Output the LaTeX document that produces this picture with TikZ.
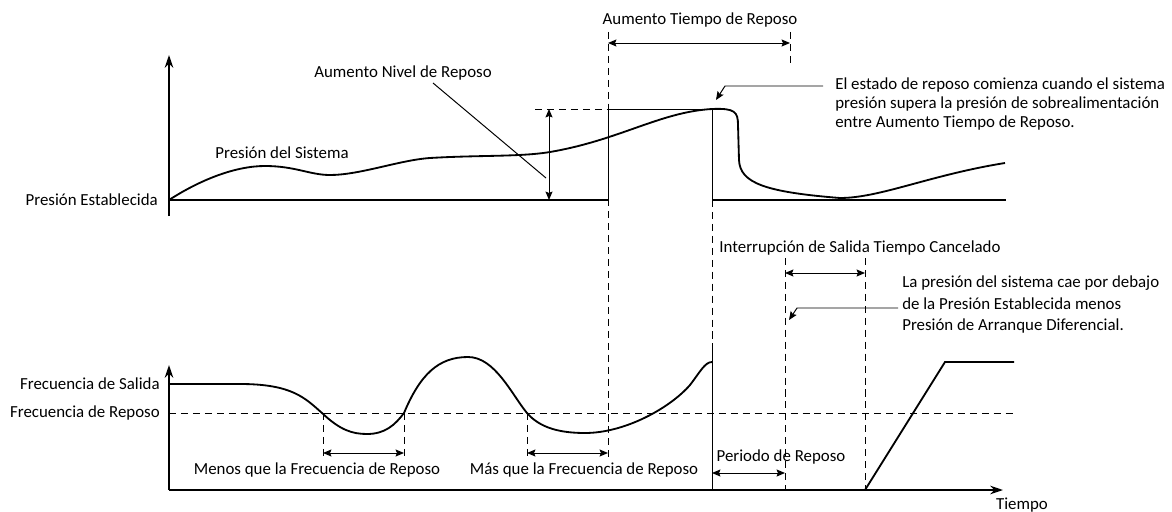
\documentclass[tikz,border=0pt]{standalone}
\usepackage{fontspec}
\setmainfont{Carlito}
\usetikzlibrary{arrows.meta,calc}
\newcommand{\axisX}{169}
\newcommand{\setLevel}{200}
\newcommand{\restLevel}{413}
\newcommand{\timeAxis}{490}
\newcommand{\boostStart}{608}
\newcommand{\boostEnd}{712}
\newcommand{\boostTop}{109}
\newcommand{\dimTip}{Stealth[length=6pt,width=5pt,inset=1pt]}

\begin{document}
\begin{tikzpicture}[x=0.025cm,y=-0.025cm,font=\fontsize{12}{13.5}\selectfont,
		axisline/.style={line width=1.3pt},
		curveline/.style={line width=1.3pt},
		thinline/.style={line width=0.7pt},
		guide/.style={line width=0.6pt,dash pattern=on 5pt off 3.5pt},
		dimarrow/.style={thinline,{\dimTip}-{\dimTip}},
		leadarrow/.style={thinline,-{\dimTip}},
		lbl/.style={inner sep=0pt}]
	\useasboundingbox (0,0) rectangle (1172,512);
	
	% dashed guides
	\foreach \x/\ya/\yb in {608/32/460, 712/200/345, 790/32/66, 785/258/490, 865/258/490, 323/413/460, 404/413/460, 527/413/460}
	{
		\draw[guide] (\x,\ya) -- (\x,\yb);
	}
	\draw[guide] (535,\boostTop) -- (\boostStart,\boostTop);
	\draw[guide] (\axisX,\restLevel) -- (1015,\restLevel);
	
	% upper panel: pressure
	\draw[axisline,-{Stealth[length=9pt,width=6pt]}] (\axisX,216) -- (\axisX,55);
	\draw[axisline] (\axisX,\setLevel) -- (\boostStart,\setLevel);
	\draw[axisline] (\boostEnd,\setLevel) -- (1006,\setLevel);
	\draw[thinline] (\boostStart,\setLevel) |- (\boostEnd,\boostTop) -- (\boostEnd,\setLevel);
	\draw[curveline] (169,200) .. controls (200,180) and (235,166) .. (265,166) .. controls (295,166) and (310,175) .. (330,175) .. controls (360,175) and (400,160) .. (430,158) .. controls (480,155) and (520,157) .. (550,152) .. controls (620,140) and (660,112) .. (712,109);
	\draw[curveline] (712,109) .. controls (735,108) and (738,112) .. (738,125) -- (739,160) .. controls (740,183) and (765,192) .. (840,198) .. controls (880,198) and (930,175) .. (1005,163);
	
	\node[lbl] (riseTime) at (700,20) {Aumento Tiempo de Reposo};
	\coordinate (riseA) at (\boostStart,43);
	\coordinate (riseB) at (790,43);
	\draw[dimarrow] (riseA) -- (riseB);
	
	\node[lbl] (riseLevel) at (403,73) {Aumento Nivel de Reposo};
	\coordinate (levelA) at (549,\boostTop);
	\coordinate (levelB) at (549,\setLevel);
	\draw[dimarrow] (levelA) -- (levelB);
	\coordinate (levelLead) at (546,178);
	\draw[thinline] (433,83) -- (levelLead);
	
	\node[lbl] (sysPress) at (282,153) {Presión del Sistema};
	\node[lbl,anchor=east] (setPress) at (158,200) {Presión Establecida};
	
	\node[lbl,anchor=north west,align=left] (sleepNote) at (835,78) {El estado de reposo comienza cuando el sistema\\presión supera la presión de sobrealimentación\\entre Aumento Tiempo de Reposo.};
	\coordinate (sleepBend) at (725,86);
	\coordinate (sleepTip) at (716,100);
	\draw[leadarrow] (823,86) -- (sleepBend) -- (sleepTip);
	
	% lower panel: frequency
	\draw[axisline,-{Stealth[length=9pt,width=6pt]}] (\axisX,\timeAxis) -- (\axisX,365);
	\draw[axisline,-{Stealth[length=9pt,width=6pt]}] (\axisX,\timeAxis) -- (1003,\timeAxis);
	\draw[thinline] (\boostEnd,345) -- (\boostEnd,\timeAxis);
	\draw[curveline] (169,384) -- (240,384) .. controls (292,384) and (305,398) .. (322,413) .. controls (340,430) and (352,434) .. (367,434) .. controls (385,434) and (395,425) .. (404,413) .. controls (420,375) and (438,357) .. (468,357) .. controls (495,357) and (512,395) .. (527,413) .. controls (540,428) and (560,433) .. (585,433) .. controls (625,433) and (670,408) .. (690,385) .. controls (700,372) and (705,362) .. (712,362);
	\draw[curveline] (865,\timeAxis) -- (945,362) -- (1014,362);
	
	\node[lbl,anchor=east] (outFreq) at (160,384) {Frecuencia de Salida};
	\node[lbl,anchor=east] (restFreq) at (160,\restLevel) {Frecuencia de Reposo};
	
	\coordinate (lessA) at (323,453);
	\coordinate (lessB) at (404,453);
	\draw[dimarrow] (lessA) -- (lessB);
	\node[lbl] (lessLbl) at (317,470) {Menos que la Frecuencia de Reposo};
	
	\coordinate (moreA) at (527,453);
	\coordinate (moreB) at (608,453);
	\draw[dimarrow] (moreA) -- (moreB);
	\node[lbl] (moreLbl) at (584,470) {Más que la Frecuencia de Reposo};
	
	\coordinate (periodA) at (\boostEnd,473);
	\coordinate (periodB) at (785,473);
	\draw[dimarrow] (periodA) -- (periodB);
	\node[lbl] (periodLbl) at (781,457) {Periodo de Reposo};
	
	\node[lbl] (cancelLbl) at (860,248) {Interrupción de Salida Tiempo Cancelado};
	\coordinate (cancelA) at (785,273);
	\coordinate (cancelB) at (865,273);
	\draw[dimarrow] (cancelA) -- (cancelB);
	
	\node[lbl,anchor=north west,align=left,font=\fontsize{12}{15}\selectfont] (dropNote) at (902,276) {La presión del sistema cae por debajo\\de la Presión Establecida menos\\Presión de Arranque Diferencial.};
	\coordinate (dropBend) at (797,308);
	\coordinate (dropTip) at (789,320);
	\draw[leadarrow] (898,308) -- (dropBend) -- (dropTip);
	
	\node[lbl] (timeLbl) at (1022,505) {Tiempo};
\end{tikzpicture}
\end{document}
